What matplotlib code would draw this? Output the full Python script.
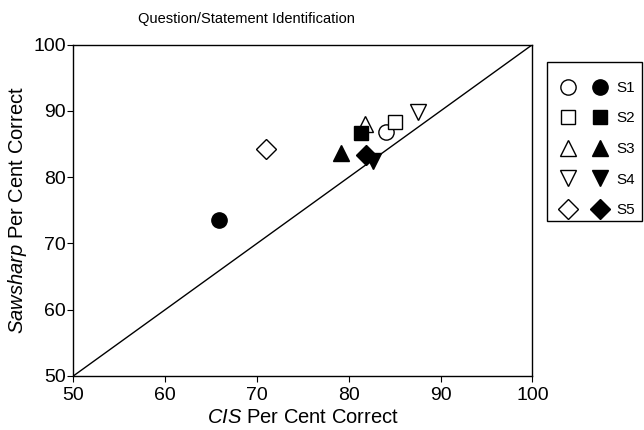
import matplotlib as mpl
import matplotlib.pyplot as plt
from matplotlib.patches import Rectangle
from matplotlib.legend_handler import HandlerTuple

mpl.rcParams.update({
    'font.family': ['Liberation Sans', 'DejaVu Sans'],
    'mathtext.fontset': 'custom',
    'mathtext.rm': 'Liberation Sans',
    'mathtext.it': 'Liberation Sans:italic',
    'xtick.direction': 'out',
    'ytick.direction': 'out',
    'xtick.major.size': 4,
    'ytick.major.size': 4,
})

# Data
subjects = ['S1', 'S2', 'S3', 'S4', 'S5']
markers = ['o', 's', '^', 'v', 'D']
# open symbols
cis_open = [84.1, 85.0, 81.8, 87.6, 71.0]
saw_open = [86.8, 88.4, 88.0, 89.9, 84.3]
# filled symbols
cis_filled = [65.9, 81.3, 79.2, 82.6, 81.9]
saw_filled = [73.5, 86.7, 83.6, 82.4, 83.4]

marker_sizes = [11, 10.5, 11, 11, 10]

fig = plt.figure(figsize=(6.44, 4.30), dpi=100)
ax = fig.add_axes([0.1138, 0.1256, 0.7128, 0.7704])

# identity line
ax.plot([50, 100], [50, 100], color='black', linewidth=1.0, zorder=1)

handles = []
for i, s in enumerate(subjects):
    h_open, = ax.plot(cis_open[i], saw_open[i], linestyle='none', marker=markers[i],
                      markersize=marker_sizes[i], markerfacecolor='white',
                      markeredgecolor='black', markeredgewidth=1.0, zorder=2)
    h_fill, = ax.plot(cis_filled[i], saw_filled[i], linestyle='none', marker=markers[i],
                      markersize=marker_sizes[i], markerfacecolor='black',
                      markeredgecolor='black', markeredgewidth=1.0, zorder=3)
    handles.append((h_open, h_fill))

ax.set_xlim(50, 100)
ax.set_ylim(50, 100)
ax.set_xticks([50, 60, 70, 80, 90, 100])
ax.set_yticks([50, 60, 70, 80, 90, 100])
ax.tick_params(labelsize=14, width=0.8)
ax.tick_params(axis='x', pad=4)
ax.tick_params(axis='y', pad=1.5)
for sp in ax.spines.values():
    sp.set_linewidth(1.0)

ax.set_xlabel(r'$\mathit{CIS}$ Per Cent Correct', fontsize=14.5, labelpad=3)
ax.set_ylabel(r'$\mathit{Sawsharp}$ Per Cent Correct', fontsize=14.5, labelpad=3)
fig.text(246 / 644, 1 - 19 / 430, 'Question/Statement Identification',
         fontsize=10.5, ha='center', va='center')

# legend frame drawn separately (entries sit low in the box)
fig.patches.append(Rectangle((547 / 644, 1 - 221 / 430), 95 / 644, 159 / 430,
                             transform=fig.transFigure, fill=False,
                             edgecolor='black', linewidth=1.0))
leg = fig.legend(handles, subjects, handler_map={tuple: HandlerTuple(ndivide=None, pad=1.1)},
                 loc='upper left', bbox_to_anchor=(560 / 644, 1 - 81 / 430), fontsize=11,
                 frameon=False, handlelength=3.1, labelspacing=1.08, borderpad=0,
                 handletextpad=0.6, borderaxespad=0)

plt.savefig('out.png', dpi=100)
